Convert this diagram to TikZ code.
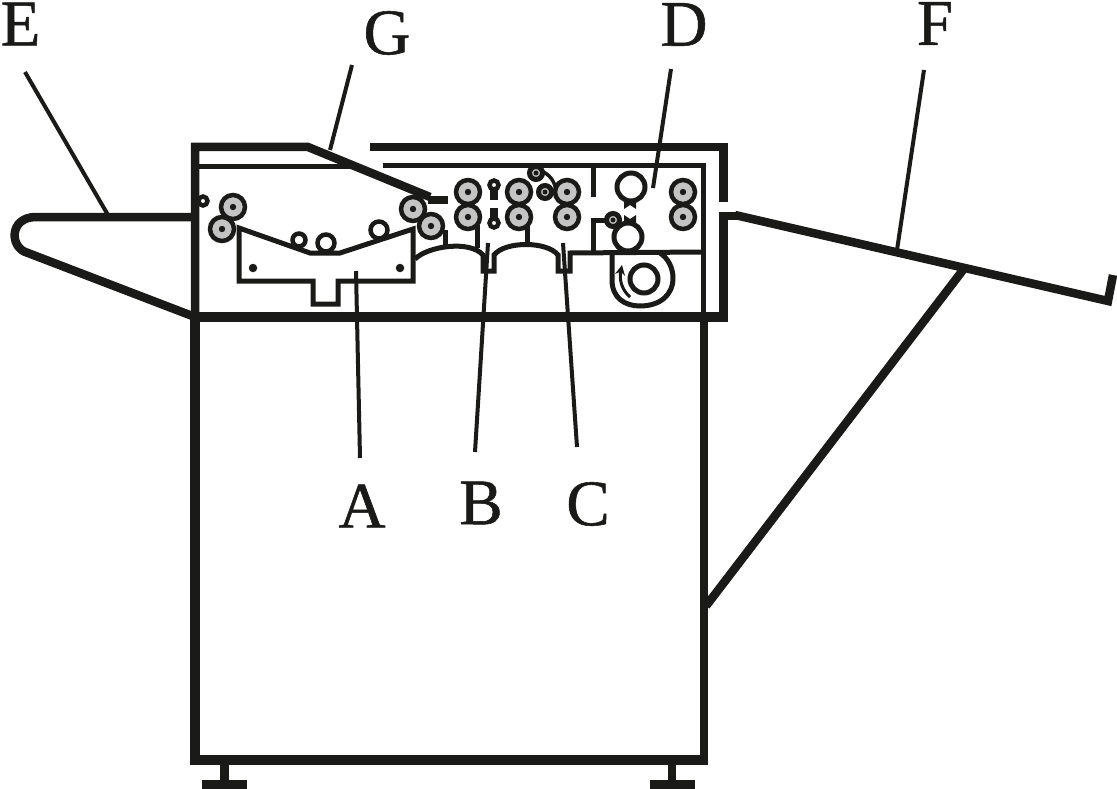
\documentclass[tikz,border=0pt]{standalone}
\usepackage{fontspec}
\setmainfont{Liberation Serif}
\newfontfamily\letterfont[FakeBold=0.8]{Liberation Serif}
\usetikzlibrary{arrows.meta}
\definecolor{ink}{HTML}{1A1A18}
\definecolor{rollergray}{HTML}{C4C4C4}
\tikzset{
  frame/.style={draw=ink,line width=8.5pt,line join=miter},
  heavy/.style={draw=ink,line width=10pt,line join=miter},
  inner/.style={draw=ink,line width=5pt,line join=miter},
  leader/.style={draw=ink,line width=4pt},
  letter/.style={text=ink,font=\letterfont\fontsize{65}{65}\selectfont,inner sep=0pt},
  roller/.style={draw=ink,circle,fill=rollergray,line width=4.5pt,minimum size=24pt,inner sep=0pt,
    path picture={\fill[ink] (path picture bounding box.center) circle (3.2pt);}},
  idler/.style={draw=ink,circle,fill=rollergray,line width=5pt,minimum size=13pt,inner sep=0pt,
    path picture={\fill[ink] (path picture bounding box.center) circle (2.5pt);}},
  pulley/.style={draw=ink,circle,fill=white,line width=4.5pt,minimum size=#1,inner sep=0pt},
  drum/.style={draw=ink,circle,fill=white,line width=5pt,minimum size=#1,inner sep=0pt},
  hub/.style={circle,fill=ink,minimum size=8.5pt,inner sep=0pt}
}
\begin{document}
\begin{tikzpicture}[x=1pt,y=-1pt]
    \useasboundingbox (0,0) rectangle (1117,789);
    %Cabinet
    \coordinate (ctl) at (195,317);
    \coordinate (ctr) at (704,317);
    \coordinate (cbl) at (195,760);
    \coordinate (cbr) at (704,760);
    \draw[frame] (ctr) -- (cbr);
    \draw[heavy] (ctl) -- (cbl) -- (708,760);
    \coordinate (fl) at (224.5,764);
    \coordinate (flb) at (224.5,785);
    \coordinate (fr) at (672,764);
    \coordinate (frb) at (672,785);
    \draw[frame] (fl) -- (flb);
    \draw[frame] (fr) -- (frb);
    \draw[frame] (202,784.5) -- (247,784.5);
    \draw[frame] (650,784.5) -- (695,784.5);
    %Housing
    \coordinate (htl) at (195,147);
    \coordinate (hbr) at (723.5,317);
    \coordinate (gk) at (308,147);
    \coordinate (ge) at (430,197);
    \draw[frame] (ctl) -- (htl) -- (gk) -- (ge);
    \draw[draw=ink,line width=8pt] (428,200) -- (448,200);
    \draw[frame] (370,147) -- (723.5,147) -- (723.5,202);
    \draw[frame] (740,216) -- (723.5,216) -- (hbr);
    \draw[heavy] (727.75,317) -- (ctl);
    \draw[inner] (196,167) -- (352,167);
    \draw[inner] (383,165.5) -- (703.5,165.5) -- (703.5,318);
    %Trays
    \draw[frame] (195,217) -- (36,217) .. controls (9,217) and (9,248) .. (28,253) -- (ctl);
    \coordinate (ftip) at (1108,301);
    \coordinate (fup) at (1113,275);
    \coordinate (sa) at (963,270);
    \coordinate (sb) at (706,606);
    \draw[frame] (735,215) -- (ftip) -- (fup);
    \draw[frame] (sa) -- (sb);
    %Bed
    \draw[inner] (239,228) -- (239,281) -- (313,281) -- (313,304) -- (338,304) -- (338,281) -- (413,281) -- (413,229) -- (340,253) -- (310,253) -- cycle;
    \node[hub] (h1) at (253,268) {};
    \node[hub] (h2) at (400,268) {};
    %Platens
    \draw[inner] (415,259) .. controls (428,246) and (470,240) .. (483,255) -- (483,271) -- (494,271) -- (494,255) .. controls (505,241) and (547,241) .. (558,255) -- (558,271) -- (570,271) -- (570,253) -- (703,252);
    \draw[inner] (593,252) -- (593,220) -- (606,220);
    \draw[inner] (593,168) -- (593,197);
    \draw[inner] (445,230) -- (445,245);
    \draw[inner] (477,225) -- (477,248);
    \draw[inner] (527,225) -- (527,245);
    \draw[draw=ink,line width=3.5pt] (540,170) .. controls (550,175) and (554,180) .. (556,190);
    %Rollers
    \node[pulley=9pt] (p1) at (203,201) {};
    \node[roller] (r1) at (233,207) {};
    \node[roller] (r2) at (222,229) {};
    \node[roller] (r3) at (413,209) {};
    \node[roller] (r4) at (431,226) {};
    \node[pulley=13pt] (p2) at (299,240) {};
    \node[pulley=17pt] (p3) at (326,243) {};
    \node[pulley=17pt] (p4) at (379,230) {};
    \node[roller] (r5) at (468,192) {};
    \node[roller] (r6) at (468,217) {};
    \node[roller] (r7) at (519,192) {};
    \node[roller] (r8) at (519,217) {};
    \node[roller] (r9) at (567,192) {};
    \node[roller] (r10) at (567,217) {};
    \node[roller] (r11) at (683,192) {};
    \node[roller] (r12) at (683,217) {};
    \node[idler] (i1) at (536,173) {};
    \node[idler] (i2) at (545,192) {};
    \node[idler] (i3) at (613,220) {};
    %Nips
    \draw[draw=ink,line width=8pt] (494,188) -- (494,200);
    \draw[draw=ink,line width=8pt] (494,208) -- (494,220);
    \node[pulley=9pt] (p5) at (494,185) {};
    \node[pulley=9pt] (p6) at (494,223) {};
    \node[drum=28pt] (d1) at (631,187) {};
    \node[drum=28pt] (d2) at (628,237) {};
    \fill[ink] (624,201) -- (636,201) -- (636,209) -- (630,205) -- (624,209) -- cycle;
    \fill[ink] (624,224) -- (636,224) -- (636,215) -- (630,219) -- (624,215) -- cycle;
    %Reel
    \draw[inner] (612,253) -- (612,280) .. controls (612,298) and (625,306) .. (640,306) .. controls (660,306) and (673,295) .. (673,278) .. controls (673,268) and (668,258) .. (660,253);
    \node[drum=28pt] (d3) at (644,279) {};
    \draw[draw=ink,line width=3pt,-{Stealth[length=10pt,width=10pt]}] (630,297) .. controls (622,290) and (619,280) .. (622,265);
    %Labels
    \node[letter] (lE) at (20.5,24) {E};
    \node[letter] (lG) at (387,33) {G};
    \node[letter] (lD) at (684,24.5) {D};
    \node[letter] (lF) at (935,23.5) {F};
    \node[letter] (lA) at (362,506) {A};
    \node[letter] (lB) at (481,503) {B};
    \node[letter] (lC) at (588,504) {C};
    \coordinate (eE) at (25,72);
    \coordinate (tE) at (108,215);
    \coordinate (eG) at (352,65);
    \coordinate (tG) at (330,150);
    \coordinate (eD) at (671,69);
    \coordinate (tD) at (653,188);
    \coordinate (eF) at (924,70);
    \coordinate (tF) at (897,250);
    \coordinate (eA) at (360,458);
    \coordinate (tA) at (356,271);
    \coordinate (eB) at (475,452);
    \coordinate (tB) at (488,243);
    \coordinate (eC) at (577,447);
    \coordinate (tC) at (563,243);
    \draw[leader] (eE) -- (tE);
    \draw[leader] (eG) -- (tG);
    \draw[leader] (eD) -- (tD);
    \draw[leader] (eF) -- (tF);
    \draw[leader] (eA) -- (tA);
    \draw[leader] (eB) -- (tB);
    \draw[leader] (eC) -- (tC);
\end{tikzpicture}
\end{document}
